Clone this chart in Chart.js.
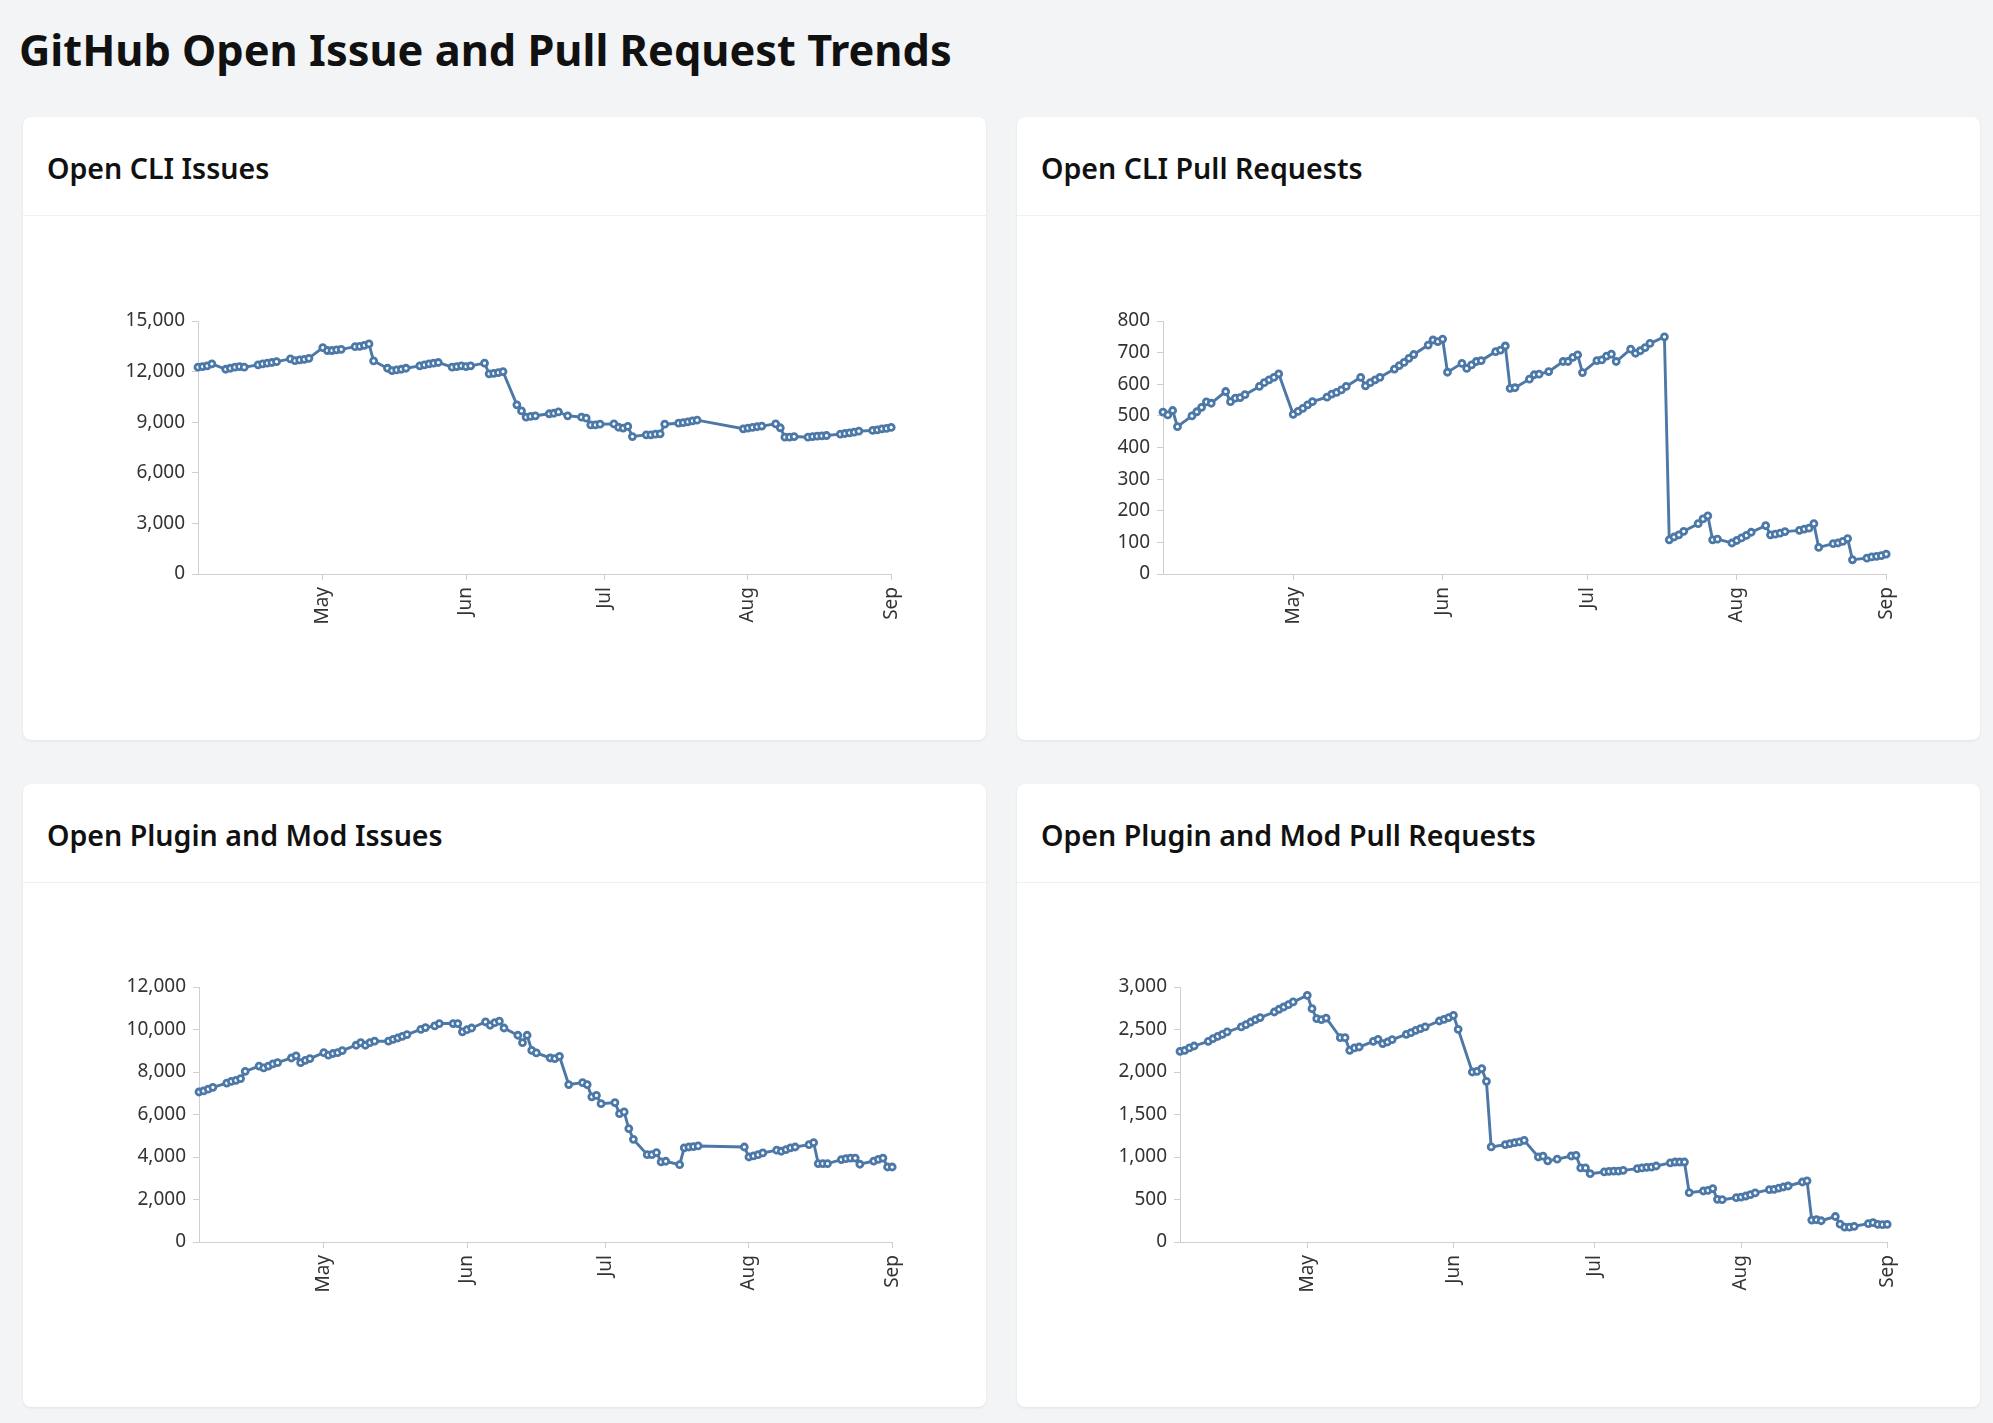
<!DOCTYPE html>
<html><head><meta charset="utf-8">
<script src="https://cdn.jsdelivr.net/npm/chart.js@4.4.0/dist/chart.umd.min.js"></script>
<style>
html,body{margin:0;padding:0;}
body{width:1993px;height:1423px;background:#f3f4f6;position:relative;overflow:hidden;font-family:"Noto Sans","Open Sans",sans-serif;}
h1{position:absolute;left:19px;top:0;margin:0;font-weight:700;color:#111;white-space:nowrap;line-height:1.2;}
.card{position:absolute;background:#fff;border-radius:8px;box-shadow:0 1px 3px rgba(0,0,0,0.08);width:963px;height:623px;}
.card h2{position:absolute;left:24px;top:0;margin:0;font-weight:600;color:#111;white-space:nowrap;line-height:1.2;}
.card .sep{position:absolute;left:0;right:0;top:98px;height:1px;background:#f0f0f0;}
canvas{position:absolute;}
</style></head><body>
<h1 id="title">GitHub Open Issue and Pull Request Trends</h1>
<div class="card" style="left:23px;top:117px"><h2>Open CLI Issues</h2><div class="sep"></div></div>
<div class="card" style="left:1017px;top:117px"><h2>Open CLI Pull Requests</h2><div class="sep"></div></div>
<div class="card" style="left:23px;top:784px"><h2>Open Plugin and Mod Issues</h2><div class="sep"></div></div>
<div class="card" style="left:1017px;top:784px"><h2>Open Plugin and Mod Pull Requests</h2><div class="sep"></div></div>
<canvas id="c1"></canvas><canvas id="c2"></canvas><canvas id="c3"></canvas><canvas id="c4"></canvas>
<script>
const dates = [
 '2023-04-04','2023-04-05','2023-04-06','2023-04-07',
 '2023-04-10','2023-04-11','2023-04-12','2023-04-13','2023-04-14',
 '2023-04-17','2023-04-18','2023-04-19','2023-04-20','2023-04-21',
 '2023-04-24','2023-04-25','2023-04-26','2023-04-27','2023-04-28',
 '2023-05-01','2023-05-02','2023-05-03','2023-05-04','2023-05-05',
 '2023-05-08','2023-05-09','2023-05-10','2023-05-11','2023-05-12',
 '2023-05-15','2023-05-16','2023-05-17','2023-05-18','2023-05-19',
 '2023-05-22','2023-05-23','2023-05-24','2023-05-25','2023-05-26',
 '2023-05-29','2023-05-30','2023-05-31','2023-06-01','2023-06-02',
 '2023-06-05','2023-06-06','2023-06-07','2023-06-08','2023-06-09',
 '2023-06-12','2023-06-13','2023-06-14','2023-06-15','2023-06-16',
 '2023-06-19','2023-06-20','2023-06-21','2023-06-23',
 '2023-06-26','2023-06-27','2023-06-28','2023-06-29','2023-06-30',
 '2023-07-03','2023-07-04','2023-07-05','2023-07-06','2023-07-07',
 '2023-07-10','2023-07-11','2023-07-12','2023-07-13','2023-07-14',
 '2023-07-17','2023-07-18','2023-07-19','2023-07-20','2023-07-21',
 '2023-07-24','2023-07-25','2023-07-26','2023-07-27','2023-07-28',
 '2023-07-31','2023-08-01','2023-08-02','2023-08-03','2023-08-04',
 '2023-08-07','2023-08-08','2023-08-09','2023-08-10','2023-08-11',
 '2023-08-14','2023-08-15','2023-08-16','2023-08-17','2023-08-18',
 '2023-08-21','2023-08-22','2023-08-23','2023-08-24','2023-08-25',
 '2023-08-28','2023-08-29','2023-08-30','2023-08-31','2023-09-01'
];
const cliIssues = [12260,12300,12340,12460,
 12140,12200,12260,12300,12260,
 12400,12460,12500,12540,12590,
 12750,12650,12690,12730,12790,
 13420,13250,13250,13290,13320,
 13480,13500,13560,13640,12630,
 12200,12060,12100,12140,12200,
 12340,12400,12460,12500,12540,
 12260,12300,12340,12300,12340,
 12500,11870,11900,11940,12000,
 10030,9670,9300,9340,9380,
 9500,9530,9610,9380,
 9300,9240,8840,8840,8880,
 8900,8700,8650,8750,8150,
 8250,8250,8290,8310,8880,
 8940,8980,9020,9080,9120,
 null,null,null,null,null,
 8610,8650,8690,8730,8770,
 8900,8670,8110,8110,8150,
 8110,8150,8170,8190,8210,
 8290,8330,8370,8410,8470,
 8510,8550,8610,8630,8690];
const cliPullRequests = [512,503,517,466,
 500,513,527,544,540,
 577,545,556,558,567,
 593,605,614,622,633,
 505,514,524,535,545,
 559,569,574,582,593,
 622,595,605,614,622,
 648,659,669,682,694,
 724,740,735,743,638,
 666,650,661,672,675,
 703,708,721,587,589,
 616,630,632,640,
 672,672,685,693,637,
 675,677,689,695,672,
 711,698,706,716,729,
 750,108,117,124,135,
 159,174,184,108,110,
 98,106,114,122,132,
 153,124,126,129,134,
 138,142,145,159,84,
 96,98,103,112,45,
 50,54,56,58,63];
const pluginIssues = [7060,7110,7190,7280,
 7480,7560,7610,7690,8030,
 8280,8190,8280,8380,8440,
 8660,8760,8440,8550,8630,
 8910,8790,8870,8910,9010,
 9260,9380,9260,9380,9450,
 9450,9540,9600,9680,9760,
 10010,10090,null,10170,10280,
 10280,10280,9890,9990,10070,
 10360,10200,10320,10390,10070,
 9730,9380,9730,9020,8900,
 8660,8630,8740,7410,
 7500,7410,6830,6900,6510,
 6560,6040,6120,5340,4830,
 4110,4110,4210,3770,3800,
 3640,4430,4470,4490,4520,
 null,null,null,null,null,
 4470,4000,4050,4110,4190,
 4320,4270,4350,4430,4470,
 4580,4680,3690,3690,3690,
 3880,3920,3950,3950,3660,
 3810,3890,3950,3530,3530];
const pluginPullRequests = [2243,2255,2283,2306,
 2361,2392,2420,2443,2471,
 2530,2557,2588,2616,2640,
 2706,2738,2765,2792,2824,
 2902,2745,2628,2616,2635,
 2404,2404,2255,2283,2294,
 2361,2385,2334,2353,2381,
 2443,2463,2490,2510,2530,
 2600,2620,2640,2667,2502,
 2000,2008,2039,1890,1118,
 1145,1157,1169,1177,1196,
 1000,1010,955,975,
 1012,1020,871,871,804,
 824,831,835,835,843,
 863,871,879,882,894,
 930,941,941,941,580,
 600,608,628,502,498,
 522,529,541,557,577,
 616,620,635,647,659,
 706,720,258,262,250,
 300,210,175,175,185,
 216,227,208,204,208];
const monthTicks = ['2023-05-01','2023-06-01','2023-07-01','2023-08-01','2023-09-01'];
const monthLabels = ['May','Jun','Jul','Aug','Sep'];

const FAMILY = '"Noto Sans","Open Sans",sans-serif';
const dayNum = s => { const p = s.split('-').map(Number); return Date.UTC(p[0], p[1]-1, p[2]) / 86400000; };

// text fitting
const mctx = document.createElement('canvas').getContext('2d');
function measure(text, weight){ mctx.font = weight + ' 100px ' + FAMILY; return mctx.measureText(text).width; }
const title = document.getElementById('title');
const tSize = 100 * 933 / measure(title.textContent, 700);
title.style.fontSize = tSize + 'px';
title.style.top = (67 - 0.988 * tSize) + 'px';
const h2s = Array.from(document.querySelectorAll('.card h2'));
const h2Targets = [219, 319, 398, 499];
let sum = 0, tgt = 0;
h2s.forEach((h, i) => { sum += measure(h.textContent, 600); tgt += h2Targets[i]; });
const hSize = 100 * tgt / sum;
h2s.forEach(h => { h.style.fontSize = hSize + 'px'; h.style.top = (62 - 0.988 * hSize) + 'px'; });

const YW = 110, XH = 90, PT = 20, PR = 20;
const LINE = '#4c78a8';
function config(values, max, step){
  const axisColor = '#cfcfcf';
  return {
    type: 'line',
    data: { datasets: [{
      data: dates.map((d, i) => ({ x: dayNum(d), y: values[i] })),
      borderColor: LINE, borderWidth: 2.9,
      pointRadius: 3.0, pointBorderWidth: 2.8, pointBackgroundColor: '#ffffff', pointBorderColor: LINE,
      tension: 0, spanGaps: true, clip: false
    }]},
    options: {
      responsive: false, animation: false, devicePixelRatio: 1,
      layout: { padding: { left: 0, top: PT, right: PR, bottom: 0 } },
      plugins: { legend: { display: false }, tooltip: { enabled: false } },
      scales: {
        x: {
          type: 'linear', min: dayNum(dates[0]), max: dayNum(dates[dates.length - 1]),
          afterBuildTicks: s => { s.ticks = monthTicks.map(m => ({ value: dayNum(m) })); },
          afterFit: s => { s.height = XH; },
          grid: { display: true, drawOnChartArea: false, drawTicks: true, tickLength: 6, color: axisColor },
          border: { display: true, color: axisColor, width: 1 },
          ticks: { autoSkip: false, minRotation: 90, maxRotation: 90, padding: 7, color: '#333',
                   font: { family: FAMILY, size: 19 },
                   callback: (v, i) => monthLabels[i] }
        },
        y: {
          min: 0, max: max,
          afterFit: s => { s.width = YW; },
          grid: { display: true, drawOnChartArea: false, drawTicks: true, tickLength: 6, color: axisColor },
          border: { display: true, color: axisColor, width: 1 },
          ticks: { stepSize: step, padding: 7, color: '#333', font: { family: FAMILY, size: 19 } }
        }
      }
    }
  };
}
function setCanvas(cv, left, top, w, h){
  cv.width = w; cv.height = h;
  cv.style.left = left + 'px'; cv.style.top = top + 'px';
  cv.style.width = w + 'px'; cv.style.height = h + 'px';
}
function makeChart(id, values, max, step, box){
  const cv = document.getElementById(id);
  let w = box.R - box.L + YW + PR, h = box.B - box.T + PT + XH;
  setCanvas(cv, box.L - YW, box.T - PT, w, h);
  // first pass: measure paddings that Chart.js applies around the plot area
  let chart = new Chart(cv, config(values, max, step));
  const a = chart.chartArea;
  const padL = a.left, padT = a.top, padR = w - a.right, padB = h - a.bottom;
  chart.destroy();
  w = Math.round(padL + (box.R - box.L) + padR);
  h = Math.round(padT + (box.B - box.T) + padB);
  setCanvas(cv, Math.round(box.L - padL), Math.round(box.T - padT), w, h);
  chart = new Chart(cv, config(values, max, step));
}
makeChart('c1', cliIssues, 15000, 3000, { L: 198, R: 891, T: 321, B: 574 });
makeChart('c2', cliPullRequests, 800, 100, { L: 1163, R: 1886, T: 321, B: 574 });
makeChart('c3', pluginIssues, 12000, 2000, { L: 199, R: 892, T: 987, B: 1242 });
makeChart('c4', pluginPullRequests, 3000, 500, { L: 1180, R: 1887, T: 987, B: 1242 });
</script>
</body></html>
